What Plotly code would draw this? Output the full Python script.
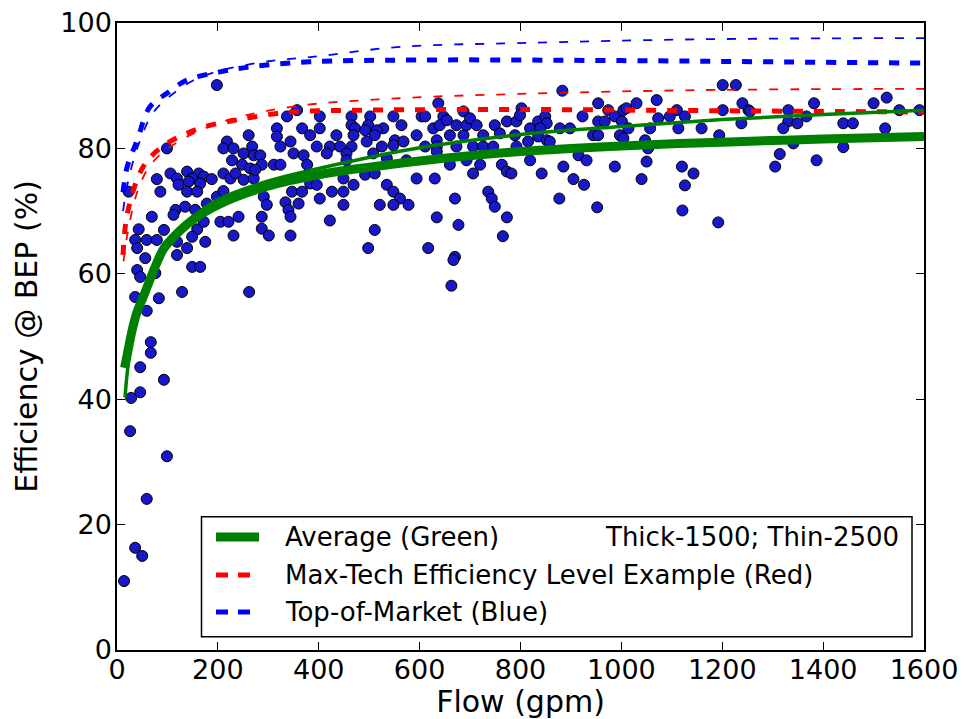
import plotly.graph_objects as go

# ---------------- data ----------------
flow_gpm = [
    198, 261, 317, 317, 337, 357, 367,
    99, 218, 211, 231, 268, 251, 271, 284, 324, 344, 350, 370, 228, 248, 264, 287, 311, 324, 377,
    106, 119, 139, 162, 149, 172, 188, 165, 142, 79, 211, 225, 235, 251, 271,
    86, 122, 139, 159, 178, 198, 211, 23, 116, 135, 155, 69, 112, 43, 93, 159, 172,
    36, 59, 79, 40, 119, 139, 175, 149, 56, 119, 149, 165, 40, 46, 76,
    205, 221, 241, 231, 287, 287, 301, 291, 297, 334, 340, 344, 344, 360, 347, 367, 274,
    36, 83, 129, 262, 59, 67, 67, 46, 93, 46, 28, 26, 99, 59, 36, 50, 14,
    637, 402, 465, 502, 548, 604, 611, 647, 687, 465, 498, 402, 472, 528, 515, 492, 564,
    627, 640, 654, 673, 693, 700, 713, 383, 435, 469, 511, 551, 568, 594, 634, 660, 687,
    726, 749, 773, 759, 396, 422, 442, 465, 416, 455, 495, 508, 525, 548, 611, 634, 673,
    706, 726, 746, 535, 574, 455, 634, 660, 693, 720, 706, 763, 773, 383, 396, 426, 449,
    469, 449, 492, 511, 535, 548, 561, 548, 521, 578, 594, 630, 670, 736, 743, 749, 402,
    449, 422, 511, 498, 634, 677, 617, 670, 667, 663, 765, 773,
    883, 954, 1030, 1070, 802, 792, 799, 835, 849, 852, 819, 839, 878, 898, 923, 954, 967,
    974, 987, 1004, 1010, 1001, 789, 835, 852, 858, 815, 944, 954, 997, 1004, 1014, 1047,
    1053, 1057, 1073, 1096, 1110, 1126, 1113, 1159, 792, 915, 931, 885, 842, 819, 782, 905,
    926, 987, 1050, 1040, 1120, 1143, 1126, 877, 952, 1121,
    1201, 1227, 1240, 1201, 1252, 1255, 1238, 1194, 1331, 1331, 1321, 1349, 1367, 1382,
    1440, 1459, 1440, 1500, 1526, 1523, 1551, 1591, 1314, 1305, 1387, 1192, 1341,
]
efficiency_pct = [
    90.1, 82.1, 83.2, 81.9, 85.1, 86.1, 83.2,
    80.0, 81.1, 80.0, 80.0, 80.3, 79.2, 78.9, 78.9, 80.3, 81.1, 79.2, 78.9, 78.1, 77.4, 76.8, 77.4, 77.4, 77.4, 77.4,
    76.0, 75.2, 76.3, 76.0, 75.2, 75.5, 75.1, 74.4, 74.7, 75.1, 76.0, 75.2, 76.0, 75.0, 75.2,
    73.1, 74.2, 73.1, 73.1, 71.2, 72.3, 73.2, 73.1, 70.2, 70.7, 70.2, 69.1, 69.4, 67.1, 67.0, 67.1, 68.3,
    65.4, 65.4, 65.4, 64.1, 65.1, 64.1, 65.1, 65.9, 62.5, 63.0, 61.1, 61.1, 60.6, 59.5, 60.1,
    68.3, 68.3, 69.1, 66.1, 69.1, 67.2, 66.1, 72.3, 71.0, 71.4, 70.2, 69.1, 66.1, 71.2, 73.1, 73.1, 76.6,
    56.3, 56.1, 57.1, 57.1, 54.1, 49.1, 47.4, 45.1, 43.1, 41.1, 40.2, 34.9, 30.9, 24.1, 16.3, 15.0, 11.0,
    87.2, 85.1, 85.1, 85.1, 85.1, 85.1, 85.1, 85.1, 85.9, 83.7, 83.7, 83.2, 83.2, 83.2, 82.9, 82.9, 83.7,
    83.2, 83.7, 84.5, 83.7, 83.7, 84.8, 83.7, 82.1, 82.1, 82.1, 82.1, 81.3, 81.1, 82.1, 81.3, 82.1, 82.1,
    82.1, 83.7, 84.3, 82.4, 80.3, 80.3, 80.3, 80.3, 79.2, 79.2, 81.1, 79.2, 80.3, 80.5, 80.3, 80.3, 80.3,
    80.3, 80.3, 80.3, 78.4, 78.1, 78.1, 79.5, 77.4, 78.1, 77.4, 76.0, 77.4, 76.3, 74.4, 74.2, 73.1, 73.1,
    74.2, 75.2, 75.8, 76.0, 74.2, 73.1, 72.0, 71.0, 71.0, 71.0, 75.2, 75.2, 72.0, 73.1, 72.0, 70.7, 72.0,
    71.0, 68.5, 67.0, 64.1, 69.0, 67.8, 64.1, 62.7, 62.2, 58.1, 66.0, 69.0,
    89.2, 87.2, 87.2, 87.7, 86.4, 84.3, 85.3, 84.3, 85.1, 84.0, 83.2, 83.2, 83.2, 83.2, 85.1, 84.3, 84.3,
    86.1, 85.1, 86.1, 86.4, 84.3, 82.1, 81.9, 81.3, 81.1, 81.1, 82.1, 82.1, 82.1, 81.6, 83.2, 81.3,
    80.0, 83.2, 84.8, 85.1, 86.1, 85.1, 83.2, 83.2, 80.3, 78.9, 78.1, 77.1, 76.0, 78.1, 76.0, 75.1,
    74.2, 77.1, 77.9, 75.1, 77.1, 76.0, 74.1, 72.0, 70.6, 70.1,
    90.1, 90.1, 87.2, 86.1, 86.1, 85.9, 84.0, 82.1, 86.1, 84.3, 83.2, 84.0, 85.1, 87.2,
    84.0, 84.0, 80.2, 87.2, 88.1, 83.2, 86.1, 86.1, 79.1, 77.1, 78.1, 68.2, 80.8,
]

# Average (green): thick = 1500, thin = 2500
avg_thick_x = [15, 20, 30, 40, 52, 75, 91, 100, 150, 200, 300, 400, 500, 600, 800, 1000, 1200, 1400, 1600]
avg_thick_y = [45, 47, 51, 54, 56.3, 61, 63.8, 64.8, 68.6, 71, 74, 75.8, 77, 78, 79.5, 80.4, 81, 81.5, 81.9]
avg_thin_x = [16, 20, 30, 50, 100, 150, 200, 300, 400, 600, 800, 1000, 1200, 1400, 1600]
avg_thin_y = [40.3, 44, 50, 56, 64.5, 69, 71.8, 74.8, 76.8, 80.1, 82.2, 83.5, 84.6, 85.4, 86.1]

# Max-Tech efficiency level example (red)
max_thick_x = [12, 20, 46, 71, 103, 141, 180, 228, 270, 343, 500, 800, 1200, 1600]
max_thick_y = [63, 69.4, 76.2, 79, 81, 82.5, 83.6, 84.4, 85, 85.8, 86.1, 86.2, 86.0, 85.8]
max_thin_x = [13, 20, 40, 66, 110, 200, 343, 560, 800, 1156, 1600]
max_thin_y = [62, 66, 73, 77.3, 80.5, 84, 86.6, 88.0, 88.7, 89.3, 89.5]

# Top-of-market (blue)
top_thick_x = [12, 20, 40, 65, 99, 139, 204, 264, 383, 600, 1000, 1300, 1600]
top_thick_y = [73, 77, 81.3, 86.6, 88.8, 90.9, 92.2, 93.0, 93.8, 94.1, 94.0, 93.8, 93.6]
top_thin_x = [12, 20, 40, 70, 100, 150, 200, 300, 400, 561, 800, 1156, 1600]
top_thin_y = [70, 74, 80, 85.5, 88, 90.8, 92.3, 93.9, 94.7, 96.2, 96.8, 97.4, 97.6]

x_ticks = [0, 200, 400, 600, 800, 1000, 1200, 1400, 1600]
y_ticks = [0, 20, 40, 60, 80, 100]

legend_labels = ["Average (Green)", "Max-Tech Efficiency Level Example (Red)", "Top-of-Market (Blue)"]
legend_note = "Thick-1500; Thin-2500"

# ---------------- figure ----------------
FONT = "DejaVu Sans"
GREEN, RED, BLUE = "#008000", "#ff0000", "#0000ff"

fig = go.Figure()

fig.add_trace(go.Scatter(
    x=flow_gpm, y=efficiency_pct, mode="markers", name="Pumps",
    marker=dict(size=11, color="rgb(24,24,200)", line=dict(color="black", width=1)),
    showlegend=False, hoverinfo="x+y"))

def curve(x, y, color, width, dash, name):
    fig.add_trace(go.Scatter(x=x, y=y, mode="lines", name=name, showlegend=False,
                             line=dict(color=color, width=width, dash=dash, shape="spline", smoothing=1.0)))

curve(top_thin_x, top_thin_y, BLUE, 1.8, "9px,12px", "Top-of-Market 2500")
curve(top_thick_x, top_thick_y, BLUE, 5, "10px,11px", "Top-of-Market 1500")
curve(max_thin_x, max_thin_y, RED, 1.8, "9px,12px", "Max-Tech 2500")
curve(max_thick_x, max_thick_y, RED, 5, "10px,11px", "Max-Tech 1500")
curve(avg_thin_x, avg_thin_y, GREEN, 3.5, "solid", "Average 2500")
curve(avg_thick_x, avg_thick_y, GREEN, 9, "solid", "Average 1500")

# ---- manual legend box (paper coordinates) ----
L, T = 117, 23
PW, PH = 807, 627
def px(v): return (v - L) / PW
def py(v): return (T + PH - v) / PH

shapes = [dict(type="rect", xref="paper", yref="paper",
               x0=px(201.5), x1=px(912), y0=py(636.7), y1=py(516.7),
               line=dict(color="black", width=1.5), fillcolor="white", layer="above")]
rows = [537, 575, 612]
samples = [(GREEN, 9, "solid"), (RED, 5, "12px,10px"), (BLUE, 5, "12px,10px")]
annotations = []
for r, (c, w, d), lab in zip(rows, samples, legend_labels):
    shapes.append(dict(type="line", xref="paper", yref="paper",
                       x0=px(216), x1=px(259), y0=py(r), y1=py(r),
                       line=dict(color=c, width=w, dash=d), layer="above"))
    annotations.append(dict(xref="paper", yref="paper", x=px(283), y=py(r), text=lab,
                            showarrow=False, xanchor="left", yanchor="middle",
                            font=dict(family=FONT, size=26, color="black")))
annotations.append(dict(xref="paper", yref="paper", x=px(901), y=py(rows[0]), text=legend_note,
                        showarrow=False, xanchor="right", yanchor="middle",
                        font=dict(family=FONT, size=26, color="black")))

axis_common = dict(showline=True, linecolor="black", linewidth=1.5, mirror="ticks",
                   ticks="inside", ticklen=8, tickwidth=1.2, tickcolor="black",
                   showgrid=False, zeroline=False, automargin=False,
                   tickfont=dict(family=FONT, size=27, color="black"))

fig.update_layout(
    width=964, height=719,
    margin=dict(l=117, r=40, t=23, b=69),
    paper_bgcolor="white", plot_bgcolor="white",
    font=dict(family=FONT, color="black"),
    xaxis=dict(range=[0, 1600], tickvals=x_ticks, ticktext=[str(v) for v in x_ticks],
               ticklabelstandoff=-5,
               title=dict(text="Flow (gpm)", font=dict(family=FONT, size=30), standoff=12),
               **axis_common),
    yaxis=dict(range=[0, 100], tickvals=y_ticks, ticktext=[str(v) for v in y_ticks],
               ticklabelstandoff=-2,
               title=dict(text="Efficiency @ BEP (%)", font=dict(family=FONT, size=30), standoff=14),
               **axis_common),
    shapes=shapes, annotations=annotations, showlegend=False,
)

fig.write_html("out.html")
